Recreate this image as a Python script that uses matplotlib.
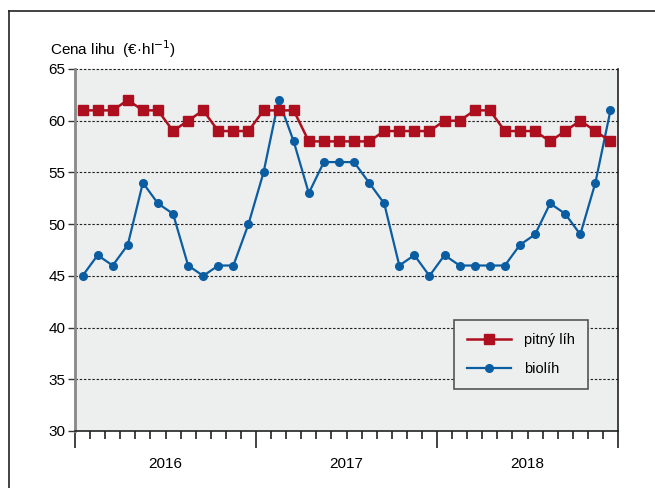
import matplotlib
matplotlib.use("Agg")
import matplotlib.pyplot as plt
import matplotlib.transforms as mtransforms
from matplotlib import font_manager

# monthly prices 2016-2018
years = ["2016", "2017", "2018"]
pitny_lih = [61, 61, 61, 62, 61, 61, 59, 60, 61, 59, 59, 59,
             61, 61, 61, 58, 58, 58, 58, 58, 59, 59, 59, 59,
             60, 60, 61, 61, 59, 59, 59, 58, 59, 60, 59, 58]
biolih = [45, 47, 46, 48, 54, 52, 51, 46, 45, 46, 46, 50,
          55, 62, 58, 53, 56, 56, 56, 54, 52, 46, 47, 45,
          47, 46, 46, 46, 46, 48, 49, 52, 51, 49, 54, 61]
yticks = [30, 35, 40, 45, 50, 55, 60, 65]

names = {f.name for f in font_manager.fontManager.ttflist}
font = "Liberation Sans Narrow" if "Liberation Sans Narrow" in names else "Liberation Sans"
plt.rcParams['font.family'] = [font, 'DejaVu Sans']

red = "#AE0F1E"
blue = "#0B5DA2"

fig = plt.figure(figsize=(6.55, 4.88), dpi=100)
ax = fig.add_axes([75 / 655, 1 - 431 / 488, 543 / 655, 362 / 488])
ax.set_facecolor("#EDEEEE")

# outer frame (left and top only visible)
fig.add_artist(plt.Line2D([9 / 655, 9 / 655], [0, 1 - 11 / 488], transform=fig.transFigure,
                          color="#222222", lw=1.2))
fig.add_artist(plt.Line2D([9 / 655, 1], [1 - 11 / 488, 1 - 11 / 488], transform=fig.transFigure,
                          color="#222222", lw=1.2))

x = [i + 0.5 for i in range(len(pitny_lih))]
ax.plot(x, pitny_lih, color=red, lw=1.8, marker="s", ms=6.5, label="pitný líh", zorder=4)
ax.plot(x, biolih, color=blue, lw=1.6, marker="o", ms=5.5, label="biolíh", zorder=3)

ax.set_xlim(0, 36)
ax.set_ylim(30, 65)
for v in yticks[1:]:
    ax.axhline(v, color="#222222", lw=0.8, ls=(0, (2.2, 1.6)), zorder=1, clip_on=False)

ax.set_yticks(yticks)
ax.tick_params(axis="y", length=5, width=1, color="#333333", labelsize=11, pad=2)
ax.set_xticks([0, 12, 24, 36])
ax.set_xticklabels([])
ax.set_xticks([m for m in range(1, 36) if m % 12], minor=True)
ax.tick_params(axis="x", which="major", length=12, width=1.2, color="#222222")
ax.tick_params(axis="x", which="minor", length=5.5, width=1.2, color="#222222")

trans = mtransforms.blended_transform_factory(ax.transData, ax.transAxes)
for i, yr in enumerate(years):
    ax.text(12 * i + 6, -0.09, yr, transform=trans, ha="center", va="center", fontsize=11)

ax.spines["top"].set_visible(False)
ax.spines["left"].set_color("#888888")
ax.spines["left"].set_linewidth(2)
ax.spines["bottom"].set_color("#222222")
ax.spines["bottom"].set_linewidth(1.2)
ax.spines["right"].set_color("#222222")
ax.spines["right"].set_linewidth(1.2)

fig.text(50 / 655, 1 - 49 / 488, "Cena lihu  (€·hl$^{-1}$)", fontsize=11, ha="left", va="center")

leg = ax.legend(loc="lower left", bbox_to_anchor=(0.698, 0.116), fontsize=10.5,
                fancybox=False, edgecolor="#555555", facecolor="#EDEEEE", framealpha=1,
                handlelength=3.0, handletextpad=0.9, borderpad=0.9, labelspacing=1.0,
                borderaxespad=0)
leg.get_frame().set_linewidth(1.2)

fig.savefig("out.png", dpi=100)
